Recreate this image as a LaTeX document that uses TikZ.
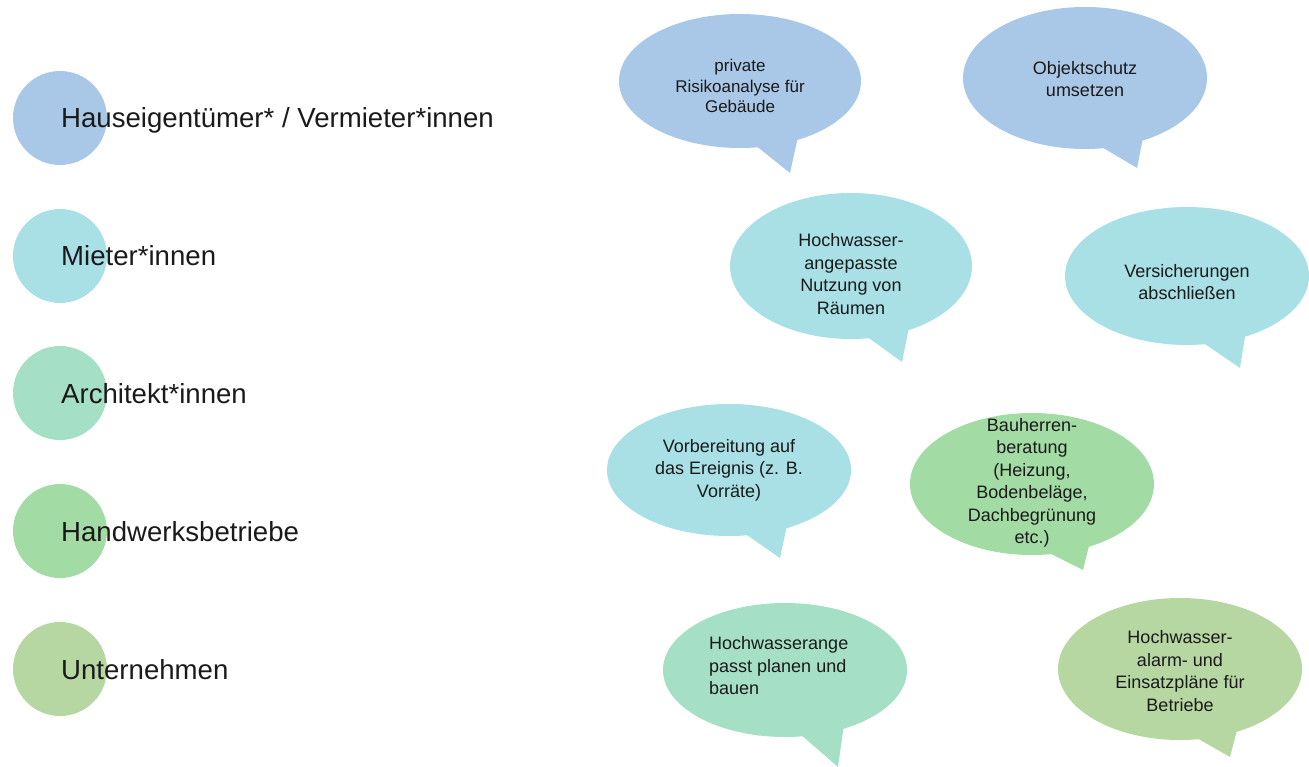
\documentclass[tikz,border=0pt]{standalone}
\usepackage{fontspec}
\setmainfont{Liberation Sans}
\usetikzlibrary{shapes.geometric,calc}
\definecolor{blueB}{HTML}{A9C8E8}
\definecolor{cyanB}{HTML}{A8E0E5}
\definecolor{mintB}{HTML}{A5DFC6}
\definecolor{greenB}{HTML}{A3DBA5}
\definecolor{oliveB}{HTML}{B6D7A2}
\definecolor{txt}{HTML}{1A1A1A}
\newcommand\bubtail[5]{\fill[#5] ($(#1.center)+(15,#2-3)$) -- ($(#1.center)+(60,0.7*#2)$) -- ($(#1.center)+(#3,#4)$) -- cycle;}
\begin{document}
\begin{tikzpicture}[x=1pt,y=-1pt,
  dot/.style={circle,inner sep=0pt,minimum size=94pt},
  legtxt/.style={anchor=base west,inner sep=0pt,text=txt,font=\fontsize{27.6}{32}\selectfont},
  bub/.style={ellipse,inner sep=0pt},
  btxt/.style={align=center,inner sep=0pt,text=txt,font=\fontsize{18}{22.5}\selectfont}]
\path[use as bounding box] (0,0) rectangle (1309,767);
% legend
\node[dot,fill=blueB]  (c1) at (60,118) {};
\node[dot,fill=cyanB]  (c2) at (60,256) {};
\node[dot,fill=mintB]  (c3) at (60,393) {};
\node[dot,fill=greenB] (c4) at (60,531) {};
\node[dot,fill=oliveB] (c5) at (60,669) {};
\node[legtxt] (l1) at (61,128) {Hauseigentümer* / Vermieter*innen};
\node[legtxt] (l2) at (61,266) {Mieter*innen};
\node[legtxt] (l3) at (61,403) {Architekt*innen};
\node[legtxt] (l4) at (61,541) {Handwerksbetriebe};
\node[legtxt] (l5) at (61,679) {Unternehmen};
% bubbles
\node[bub,fill=blueB,minimum width=242pt,minimum height=134pt] (b1) at (740,81) {};
\bubtail{b1}{67}{50}{92}{blueB}
\node[btxt,font=\fontsize{17}{20.5}\selectfont] (t1) at (740,86) {private\\Risikoanalyse für\\Gebäude};

\node[bub,fill=blueB,minimum width=244pt,minimum height=142pt] (b2) at (1085,78) {};
\bubtail{b2}{71}{52}{90}{blueB}
\node[btxt] (t2) at (1085,79) {Objektschutz\\umsetzen};

\node[bub,fill=cyanB,minimum width=242pt,minimum height=146pt] (b3) at (851,266) {};
\bubtail{b3}{73}{51}{96}{cyanB}
\node[btxt] (t3) at (851,274) {Hochwasser-\\angepasste\\Nutzung von\\Räumen};

\node[bub,fill=cyanB,minimum width=244pt,minimum height=138pt] (b4) at (1187,276) {};
\bubtail{b4}{69}{53}{92}{cyanB}
\node[btxt] (t4) at (1187,282) {Versicherungen\\abschließen};

\node[bub,fill=cyanB,minimum width=244pt,minimum height=132pt] (b5) at (729,470) {};
\bubtail{b5}{66}{51}{88}{cyanB}
\node[btxt] (t5) at (729,470) {Vorbereitung auf\\das Ereignis (z. B.\\Vorräte)};

\node[bub,fill=greenB,minimum width=244pt,minimum height=142pt] (b6) at (1032,484) {};
\bubtail{b6}{71}{51}{86}{greenB}
\node[btxt] (t6) at (1032,483) {Bauherren-\\beratung\\(Heizung,\\Bodenbeläge,\\Dachbegrünung\\etc.)};

\node[bub,fill=mintB,minimum width=244pt,minimum height=134pt] (b7) at (785,670) {};
\bubtail{b7}{67}{53}{97}{mintB}
\node[btxt,align=left,anchor=west] (t7) at (709,666) {Hochwasserange\\passt planen und\\bauen};

\node[bub,fill=oliveB,minimum width=244pt,minimum height=142pt] (b8) at (1180,669) {};
\bubtail{b8}{71}{50}{88}{oliveB}
\node[btxt] (t8) at (1180,671) {Hochwasser-\\alarm- und\\Einsatzpläne für\\Betriebe};
\end{tikzpicture}
\end{document}
